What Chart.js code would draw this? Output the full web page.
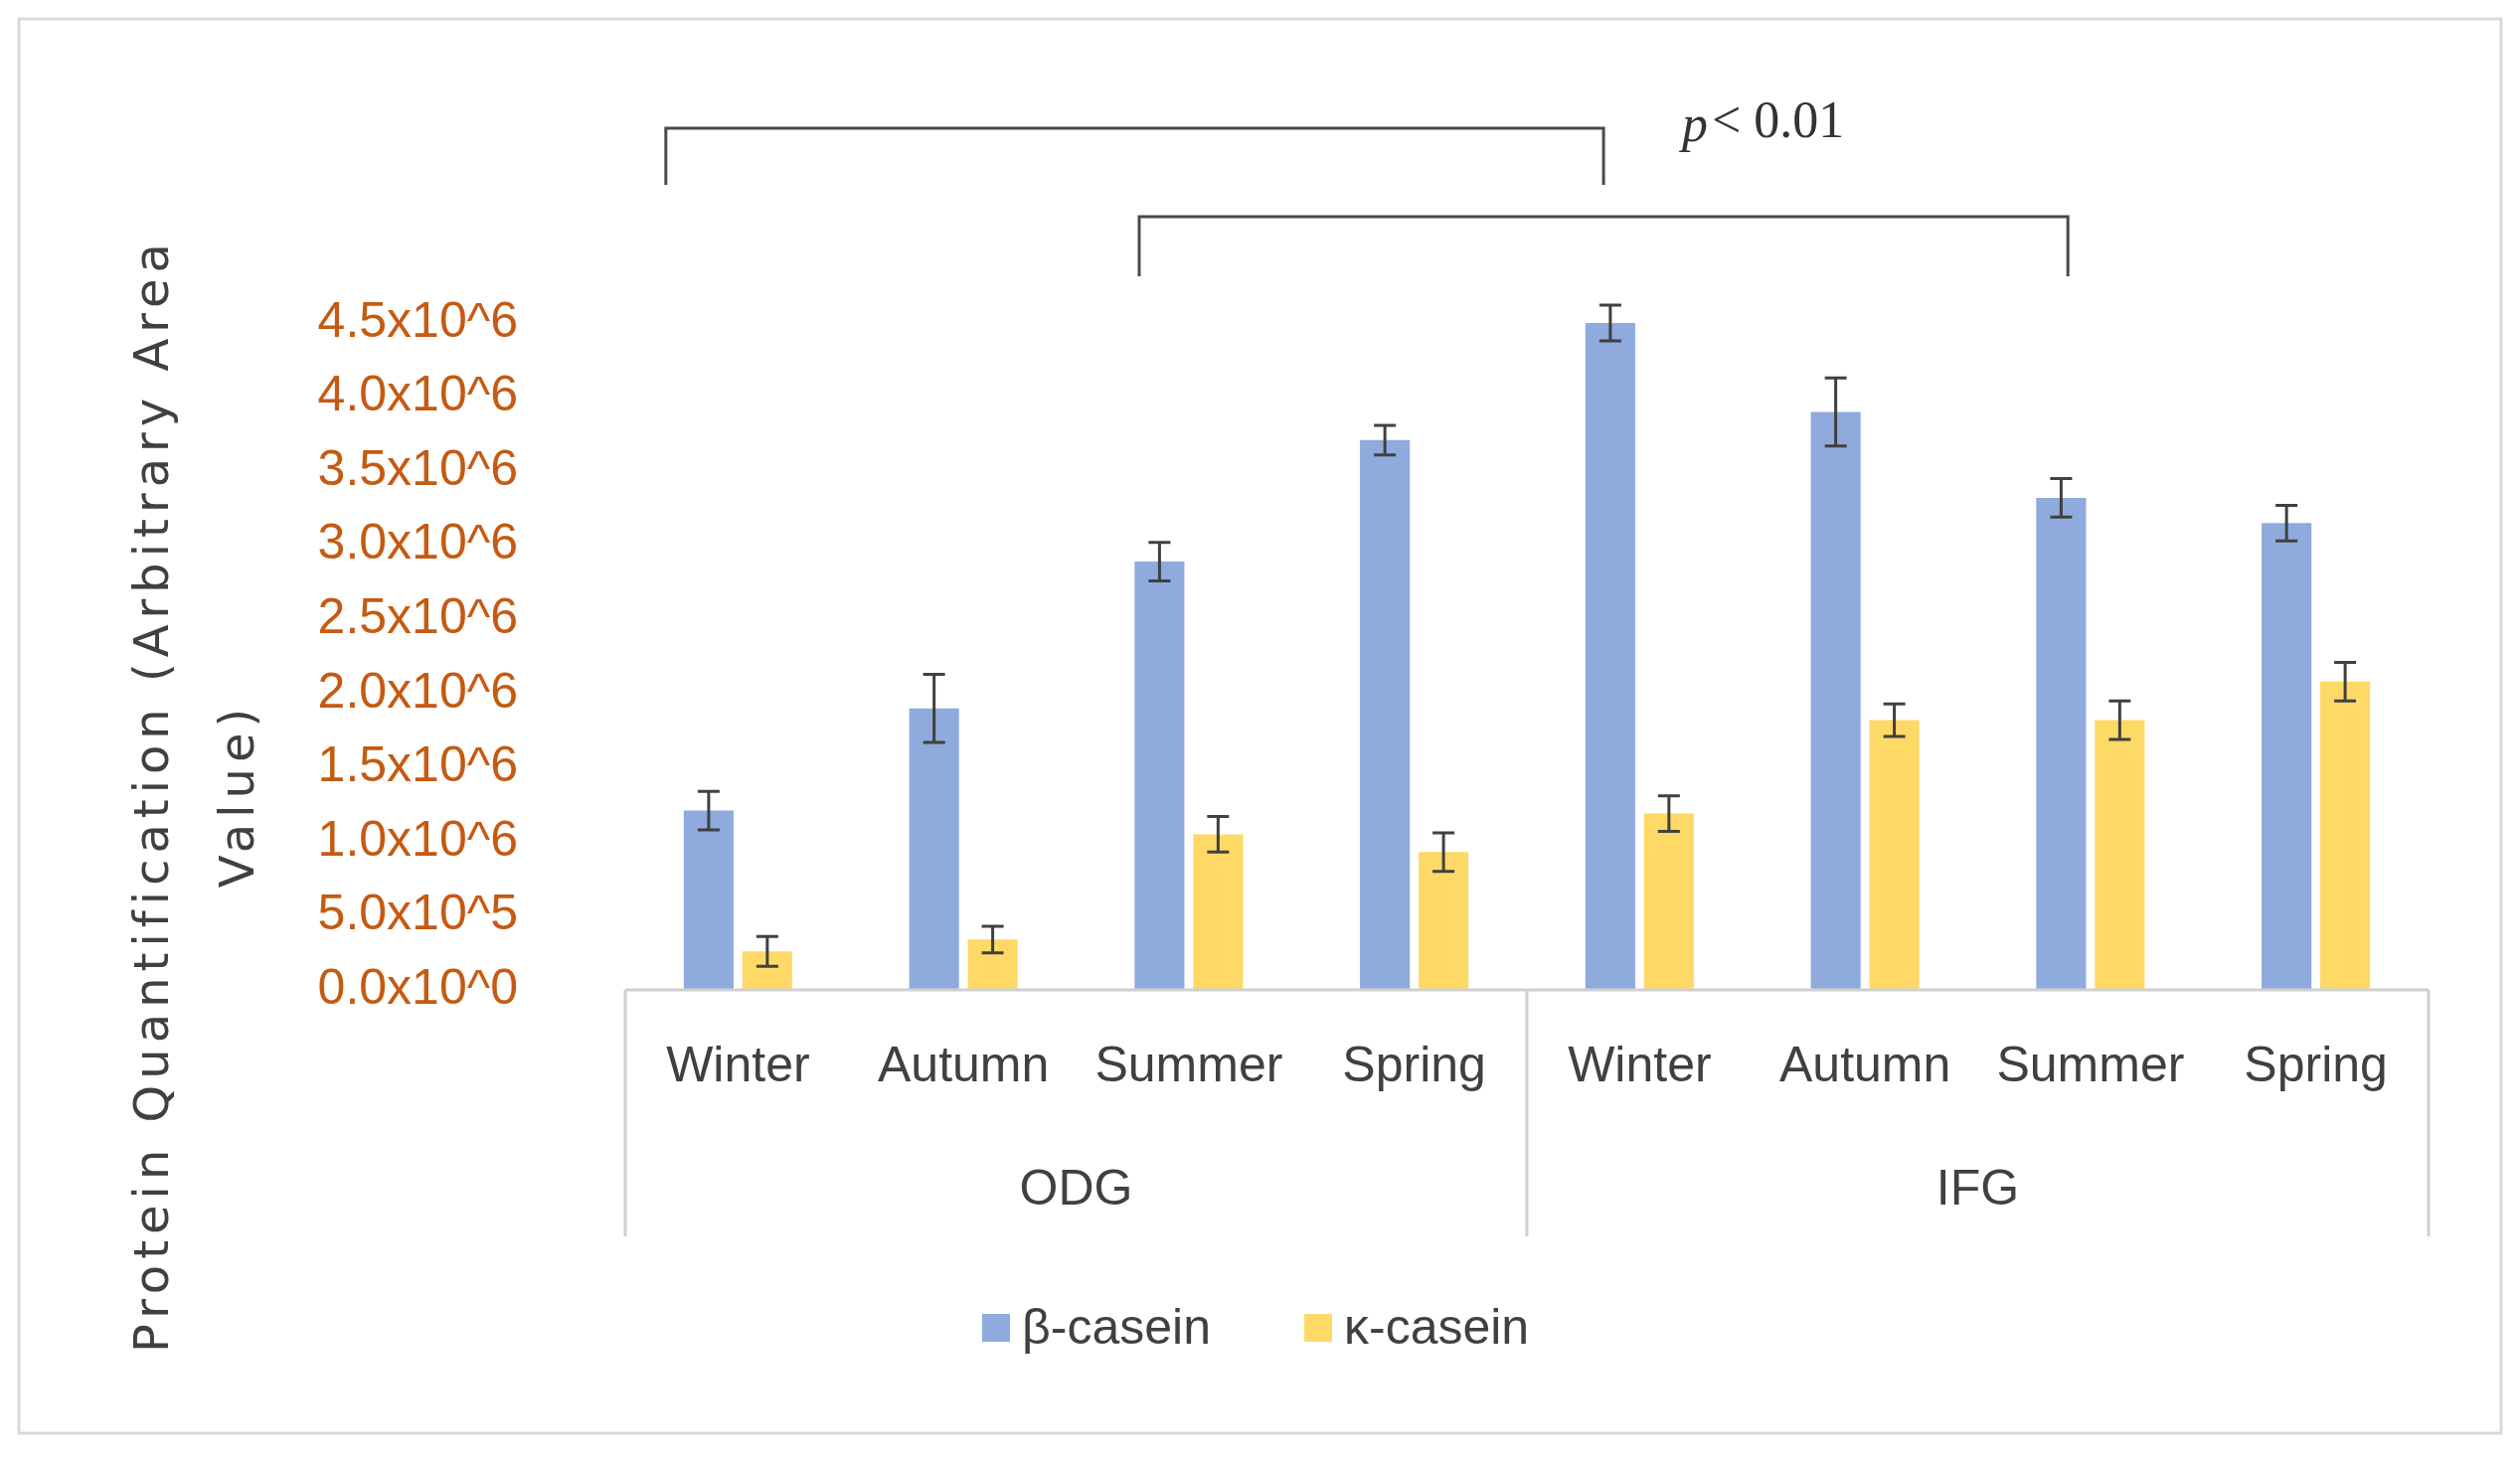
<!DOCTYPE html>
<html>
<head>
<meta charset="utf-8">
<script src="https://cdn.jsdelivr.net/npm/chart.js@4"></script>
<style>
  body { margin: 0; background: #fff; }
  canvas { display: block; }
</style>
</head>
<body>
<canvas id="chart" width="2535" height="1470"></canvas>
<script>
const seasons = ["Winter", "Autumn", "Summer", "Spring", "Winter", "Autumn", "Summer", "Spring"];
const groups = ["ODG", "IFG"];
const betaValues = [1.21e6, 1.90e6, 2.89e6, 3.71e6, 4.50e6, 3.90e6, 3.32e6, 3.15e6];
const betaErrors = [0.13e6, 0.23e6, 0.13e6, 0.10e6, 0.12e6, 0.23e6, 0.13e6, 0.12e6];
const kappaValues = [0.26e6, 0.34e6, 1.05e6, 0.93e6, 1.19e6, 1.82e6, 1.82e6, 2.08e6];
const kappaErrors = [0.10e6, 0.09e6, 0.12e6, 0.13e6, 0.12e6, 0.11e6, 0.13e6, 0.13e6];
const yTickLabels = ["0.0x10^0", "5.0x10^5", "1.0x10^6", "1.5x10^6", "2.0x10^6", "2.5x10^6",
  "3.0x10^6", "3.5x10^6", "4.0x10^6", "4.5x10^6"];

const textFont = '"Liberation Sans Narrow", "Liberation Sans", sans-serif';

// error bars, group axis, brackets, legend and frame
const extras = {
  id: "extras",
  afterDatasetsDraw(chart) {
    const ctx = chart.ctx;
    const x = chart.scales.x;
    const y = chart.scales.y;
    const area = chart.chartArea;

    // error bars
    ctx.save();
    ctx.strokeStyle = "#404040";
    ctx.lineWidth = 3;
    [betaErrors, kappaErrors].forEach((errs, di) => {
      const meta = chart.getDatasetMeta(di);
      meta.data.forEach((bar, i) => {
        const v = chart.data.datasets[di].data[i];
        const top = y.getPixelForValue(v + errs[i]);
        const bot = y.getPixelForValue(v - errs[i]);
        ctx.beginPath();
        ctx.moveTo(bar.x, top); ctx.lineTo(bar.x, bot);
        ctx.moveTo(bar.x - 11, top); ctx.lineTo(bar.x + 11, top);
        ctx.moveTo(bar.x - 11, bot); ctx.lineTo(bar.x + 11, bot);
        ctx.stroke();
      });
    });
    ctx.restore();

    // category axis with group separators
    ctx.save();
    ctx.strokeStyle = "#d0d0d0";
    ctx.lineWidth = 3;
    ctx.beginPath();
    ctx.moveTo(area.left, area.bottom); ctx.lineTo(area.right, area.bottom);
    const mid = (area.left + area.right) / 2;
    [area.left, mid, area.right].forEach((px) => {
      ctx.moveTo(px, area.bottom); ctx.lineTo(px, area.bottom + 248);
    });
    ctx.stroke();
    ctx.fillStyle = "#404040";
    ctx.font = "50px " + textFont;
    ctx.textAlign = "center";
    ctx.textBaseline = "middle";
    seasons.forEach((s, i) => ctx.fillText(s, x.getPixelForValue(i), area.bottom + 78));
    groups.forEach((g, i) => {
      ctx.fillText(g, x.getPixelForValue(i * 4 + 1.5), area.bottom + 202);
    });
    ctx.restore();

    // significance brackets
    const step = x.getPixelForValue(1) - x.getPixelForValue(0);
    ctx.save();
    ctx.strokeStyle = "#4a4a4a";
    ctx.lineWidth = 3;
    const bracket = (x1, x2, yTop, yBot) => {
      ctx.beginPath();
      ctx.moveTo(x1, yBot); ctx.lineTo(x1, yTop); ctx.lineTo(x2, yTop); ctx.lineTo(x2, yBot);
      ctx.stroke();
    };
    bracket(x.getPixelForValue(0) - 0.32 * step, x.getPixelForValue(4) - 0.16 * step, 129, 186);
    bracket(x.getPixelForValue(2) - 0.22 * step, x.getPixelForValue(6) - 0.1 * step, 218, 278);
    ctx.fillStyle = "#333";
    ctx.textBaseline = "middle";
    ctx.textAlign = "left";
    ctx.font = 'italic 52px "Liberation Serif", serif';
    ctx.fillText("p", 1692, 128);
    ctx.font = '52px "Liberation Serif", serif';
    ctx.fillText("< 0.01", 1722, 124);
    ctx.restore();

    // y axis title
    ctx.save();
    ctx.fillStyle = "#404040";
    ctx.font = '48px "DejaVu Sans", sans-serif';
    ctx.letterSpacing = "6px";
    ctx.textAlign = "center";
    ctx.textBaseline = "middle";
    ctx.translate(157, 800);
    ctx.rotate(-Math.PI / 2);
    ctx.fillText("Protein Quantification (Arbitrary Area", 0, 0);
    ctx.fillText("Value)", 0, 86);
    ctx.restore();

    // legend
    ctx.save();
    ctx.font = "50px " + textFont;
    ctx.textBaseline = "middle";
    ctx.textAlign = "left";
    const items = [["β-casein", "#8faadc", 988], ["κ-casein", "#ffd966", 1312]];
    items.forEach(([label, color, lx]) => {
      ctx.fillStyle = color;
      ctx.fillRect(lx, 1322, 28, 28);
      ctx.fillStyle = "#404040";
      ctx.fillText(label, lx + 40, 1338);
    });
    ctx.restore();

    // frame
    ctx.save();
    ctx.strokeStyle = "#d9d9d9";
    ctx.lineWidth = 3;
    ctx.strokeRect(19, 19, 2497, 1423);
    ctx.restore();
  },
};

new Chart(document.getElementById("chart").getContext("2d"), {
  type: "bar",
  data: {
    labels: seasons,
    datasets: [
      { label: "β-casein", data: betaValues, backgroundColor: "#8faadc" },
      { label: "κ-casein", data: kappaValues, backgroundColor: "#ffd966" },
    ],
  },
  options: {
    responsive: false,
    animation: false,
    categoryPercentage: 0.52,
    barPercentage: 0.85,
    layout: { padding: { left: 0, right: 92, top: 325, bottom: 474 } },
    plugins: { legend: { display: false }, tooltip: { enabled: false } },
    scales: {
      x: { display: false },
      y: {
        min: 0,
        max: 4.5e6,
        border: { display: false },
        grid: { display: false },
        afterFit(scale) { scale.width = 629; },
        ticks: {
          stepSize: 5e5,
          padding: 100,
          color: "#c55a11",
          font: { family: textFont, size: 50 },
          callback: (v, i) => yTickLabels[i],
        },
      },
    },
  },
  plugins: [extras],
});
</script>
</body>
</html>
